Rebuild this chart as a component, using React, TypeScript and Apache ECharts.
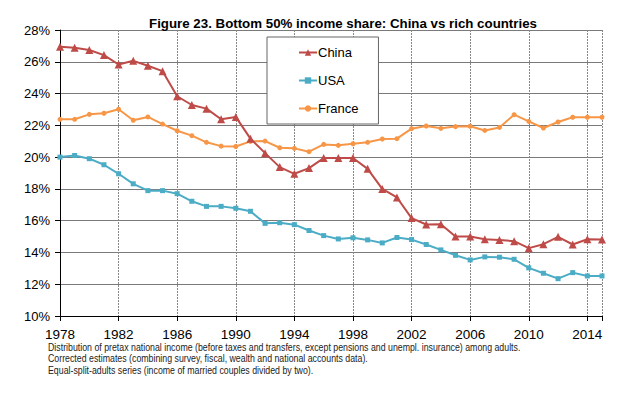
import React, { useEffect, useRef } from "react";
import * as echarts from "echarts";

const years = [1978,1979,1980,1981,1982,1983,1984,1985,1986,1987,1988,1989,1990,1991,1992,1993,1994,1995,1996,1997,1998,1999,2000,2001,2002,2003,2004,2005,2006,2007,2008,2009,2010,2011,2012,2013,2014,2015];
const china = [26.95,26.88,26.74,26.42,25.83,26.06,25.75,25.41,23.83,23.28,23.05,22.38,22.53,21.16,20.25,19.37,18.95,19.31,19.94,19.94,19.94,19.26,18.0,17.46,16.16,15.76,15.78,15.0,15.0,14.83,14.79,14.71,14.27,14.52,14.98,14.5,14.83,14.81];
const usa = [20.0,20.1,19.9,19.52,18.95,18.32,17.89,17.89,17.7,17.22,16.9,16.9,16.78,16.59,15.83,15.87,15.75,15.38,15.06,14.85,14.92,14.79,14.6,14.94,14.81,14.5,14.16,13.82,13.53,13.72,13.7,13.57,13.03,12.69,12.35,12.73,12.52,12.52];
const france = [22.38,22.38,22.69,22.76,23.01,22.32,22.53,22.08,21.66,21.35,20.93,20.69,20.67,20.99,21.01,20.59,20.55,20.34,20.8,20.74,20.84,20.93,21.14,21.16,21.79,21.96,21.81,21.92,21.94,21.68,21.87,22.67,22.25,21.83,22.21,22.51,22.51,22.51];
const footnotes = [
  "Distribution of pretax national income (before taxes and transfers, except pensions and unempl. insurance) among adults.",
  "Corrected estimates (combining survey, fiscal, wealth and national accounts data).",
  "Equal-split-adults series (income of married couples divided by two).",
];
const title = "Figure 23. Bottom 50% income share: China vs rich countries";

const FONT = "Liberation Sans, Arial, sans-serif";

const pair = (arr: number[]) => years.map((y, i) => [y, arr[i]]);

export default function App() {
  const ref = useRef<HTMLDivElement>(null);
  useEffect(() => {
    if (!ref.current) return;
    const chart = echarts.init(ref.current, null, { renderer: "svg" });
    chart.setOption({
      animation: false,
      backgroundColor: "#fff",
      textStyle: { fontFamily: FONT },
      title: {
        text: title,
        left: 338,
        textAlign: "center",
        top: 12,
        textStyle: { fontFamily: FONT, fontSize: 13.3, fontWeight: "bold", color: "#000" },
      },
      grid: { left: 60, right: 38, top: 30, bottom: 79, show: false },
      legend: {
        orient: "vertical",
        left: 267,
        top: 37,
        padding: [9, 20, 9, 31],
        itemGap: 15,
        itemWidth: 18,
        itemHeight: 8,
        backgroundColor: "#fff",
        borderColor: "#666",
        borderWidth: 1,
        textStyle: { fontFamily: FONT, fontSize: 13, color: "#000", padding: [0, 0, 0, -4] },
        data: ["China", "USA", "France"],
      },
      xAxis: {
        type: "value",
        min: 1978,
        max: 2015,
        interval: 4,
        axisLine: { show: true, onZero: false, lineStyle: { color: "#000", width: 1 } },
        axisTick: { show: true, length: 5, lineStyle: { color: "#000" } },
        axisLabel: {
          color: "#000",
          fontSize: 13.5,
          fontFamily: FONT,
          margin: 11,
          formatter: (v: number) => (v % 4 === 2 && v !== 2015 ? String(v) : ""),
        },
        splitLine: { show: true, lineStyle: { color: "#888", width: 1, type: [2, 1] } },
      },
      yAxis: {
        type: "value",
        min: 10,
        max: 28,
        interval: 2,
        axisLine: { show: true, lineStyle: { color: "#000", width: 1 } },
        axisTick: { show: true, length: 5, lineStyle: { color: "#000" } },
        axisLabel: { color: "#000", fontSize: 13, fontFamily: FONT, margin: 10, formatter: "{value}%" },
        splitLine: { show: true, lineStyle: { color: "#7a7a7a", width: 1 } },
      },
      series: [
        {
          name: "China",
          type: "line",
          data: pair(china),
          color: "#BE4B48",
          symbol: "triangle",
          symbolSize: 8,
          lineStyle: { width: 2, color: "#BE4B48" },
          itemStyle: { color: "#BE4B48" },
          z: 3,
        },
        {
          name: "USA",
          type: "line",
          data: pair(usa),
          color: "#4BACC6",
          symbol: "rect",
          symbolSize: 5,
          lineStyle: { width: 2, color: "#4BACC6" },
          itemStyle: { color: "#4BACC6" },
          z: 2,
        },
        {
          name: "France",
          type: "line",
          data: pair(france),
          color: "#F79646",
          symbol: "circle",
          symbolSize: 5,
          lineStyle: { width: 2, color: "#F79646" },
          itemStyle: { color: "#F79646" },
          z: 2,
        },
      ],
      graphic: footnotes.map((t, i) => ({
        type: "text",
        x: 48,
        y: 342 + i * 11.5,
        scaleX: 0.88,
        style: { text: t, fontFamily: FONT, fontSize: 10, fill: "#222" },
      })),
    });
    return () => chart.dispose();
  }, []);
  return <div ref={ref} style={{ width: 640, height: 395, position: "absolute", left: 0, top: 0 }} />;
}
